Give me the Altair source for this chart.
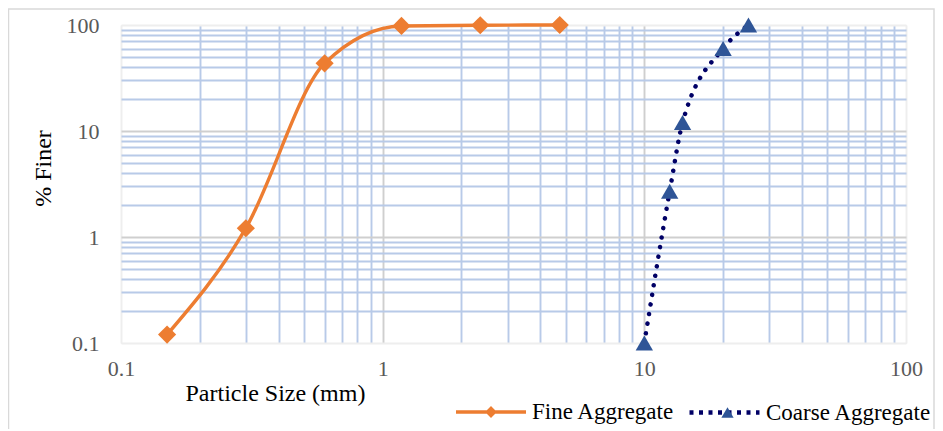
import altair as alt
import pandas as pd

# ---- data ----
fine_size = [0.15, 0.3, 0.6, 1.18, 2.36, 4.75]
fine_pct = [0.12, 1.21, 43.5, 98.0, 99.5, 100.0]
coarse_size = [10, 12.5, 14, 20, 25]
coarse_pct = [0.1, 2.7, 12.0, 60.0, 100.0]

tick_values = [0.1, 0.2, 0.3, 0.4, 0.5, 0.6, 0.7, 0.8, 0.9,
               1, 2, 3, 4, 5, 6, 7, 8, 9,
               10, 20, 30, 40, 50, 60, 70, 80, 90, 100]
label_values = [0.1, 1, 10, 100]

FINE = "Fine Aggregate"
COARSE = "Coarse Aggregate"
ORANGE = "#ED7D31"
NAVY = "#000066"
TRI = "#2F5597"
FONT = "Liberation Serif"

fine = pd.DataFrame({"size": fine_size, "pct": fine_pct, "series": FINE})
coarse = pd.DataFrame({"size": coarse_size, "pct": coarse_pct, "series": COARSE})

label_test = " || ".join(f"datum.value == {v}" for v in label_values)
grid_color = {
    "condition": [
        {"test": "datum.value == 1 || datum.value == 10", "value": "#cfcfcf"},
        {"test": "datum.value == 0.1 || datum.value == 100", "value": "#eeeeee"},
    ],
    "value": "#b8cae8",
}

x_axis = alt.Axis(
    values=tick_values, format="~g", labelExpr=f"({label_test}) ? datum.label : ''",
    grid=True, gridColor=grid_color, gridWidth=1.9, ticks=False, domain=False,
    labelFont=FONT, labelFontSize=22, labelColor="#595959", labelPadding=15,
    labelFlush=False, labelOverlap=False,
    title="Particle Size (mm)", titleFont=FONT, titleFontSize=24, titleFontWeight="normal",
    titleColor="#000000", titleAnchor="start", titleAlign="left", titleX=64, titleY=57,
    titleBaseline="alphabetic",
)
y_axis = alt.Axis(
    values=tick_values, format="~g", labelExpr=f"({label_test}) ? datum.label : ''",
    grid=True, gridColor=grid_color, gridWidth=1.9, ticks=False, domain=False,
    labelFont=FONT, labelFontSize=22, labelColor="#595959", labelPadding=22,
    labelFlush=False, labelOverlap=False,
    title="% Finer", titleFont=FONT, titleFontSize=24, titleFontWeight="normal",
    titleColor="#000000", titleAngle=270, titleAlign="center", titleBaseline="middle",
    titleX=-78, titleY=143,
)

xs = alt.Scale(type="log", domain=[0.1, 100], nice=False)
ys = alt.Scale(type="log", domain=[0.1, 100], nice=False)

X = alt.X("size:Q", scale=xs, axis=x_axis)
Y = alt.Y("pct:Q", scale=ys, axis=y_axis)

leg_common = dict(orient="none", title=None, padding=0, labelFont=FONT, labelFontSize=23,
                  labelColor="#000000", labelLimit=400)

fine_line = alt.Chart(fine).mark_line(
    interpolate="monotone", strokeWidth=3.4, color=ORANGE
).encode(
    x=X, y=Y,
    color=alt.Color("series:N", scale=alt.Scale(domain=[FINE], range=[ORANGE]),
                    legend=alt.Legend(
                        legendX=333, legendY=350,
                        symbolType="M-1,0H1M0,-0.1L0.1,0L0,0.1L-0.1,0Z",
                        symbolSize=4900, symbolStrokeWidth=3.4,
                        symbolStrokeColor=ORANGE, symbolFillColor=ORANGE,
                        labelOffset=4, **leg_common)),
)
fine_pts = alt.Chart(fine).mark_point(
    shape="diamond", filled=True, size=330, opacity=1, color=ORANGE
).encode(x=X, y=Y)

coarse_line = alt.Chart(coarse).mark_line(
    interpolate="monotone", strokeWidth=4.5, strokeDash=[0.1, 9.6], strokeCap="round"
).encode(
    x=X, y=Y,
    color=alt.Color("series:N", scale=alt.Scale(domain=[COARSE], range=[NAVY]),
                    legend=alt.Legend(
                        legendX=566, legendY=350,
                        symbolType="M-1,0H1", symbolSize=4900, symbolStrokeWidth=4.5,
                        symbolStrokeColor=NAVY, symbolDash=[4, 5.5],
                        labelOffset=4, **leg_common)),
)
coarse_pts = alt.Chart(coarse).mark_point(
    shape="triangle-up", filled=True, size=300, opacity=1
).encode(
    x=X, y=Y,
    color=alt.Color("series:N", scale=alt.Scale(domain=[COARSE], range=[TRI]),
                    legend=alt.Legend(
                        legendX=595, legendY=376,
                        symbolType="triangle-up", symbolSize=150, symbolStrokeWidth=0,
                        symbolFillColor=TRI, symbolOpacity=1,
                        labelExpr="''", labelOffset=0,
                        **leg_common)),
)

frame = alt.Chart(pd.DataFrame({"a": [0]})).mark_rect(
    filled=False, stroke="#d9d9d9", strokeWidth=1.5
).encode(x=alt.value(-112.5), x2=alt.value(813), y=alt.value(-16), y2=alt.value(440))

chart = alt.layer(frame, fine_line, coarse_line, fine_pts, coarse_pts).resolve_scale(
    color="independent"
).properties(
    width=785, height=318,
    autosize=alt.AutoSizeParams(type="none"),
    padding={"left": 113, "top": 17, "right": 29, "bottom": 86},
    background="#ffffff",
).configure_view(stroke="#eeeeee", strokeWidth=1)

chart.save("out.html", embed_options={"renderer": "svg", "actions": False})
